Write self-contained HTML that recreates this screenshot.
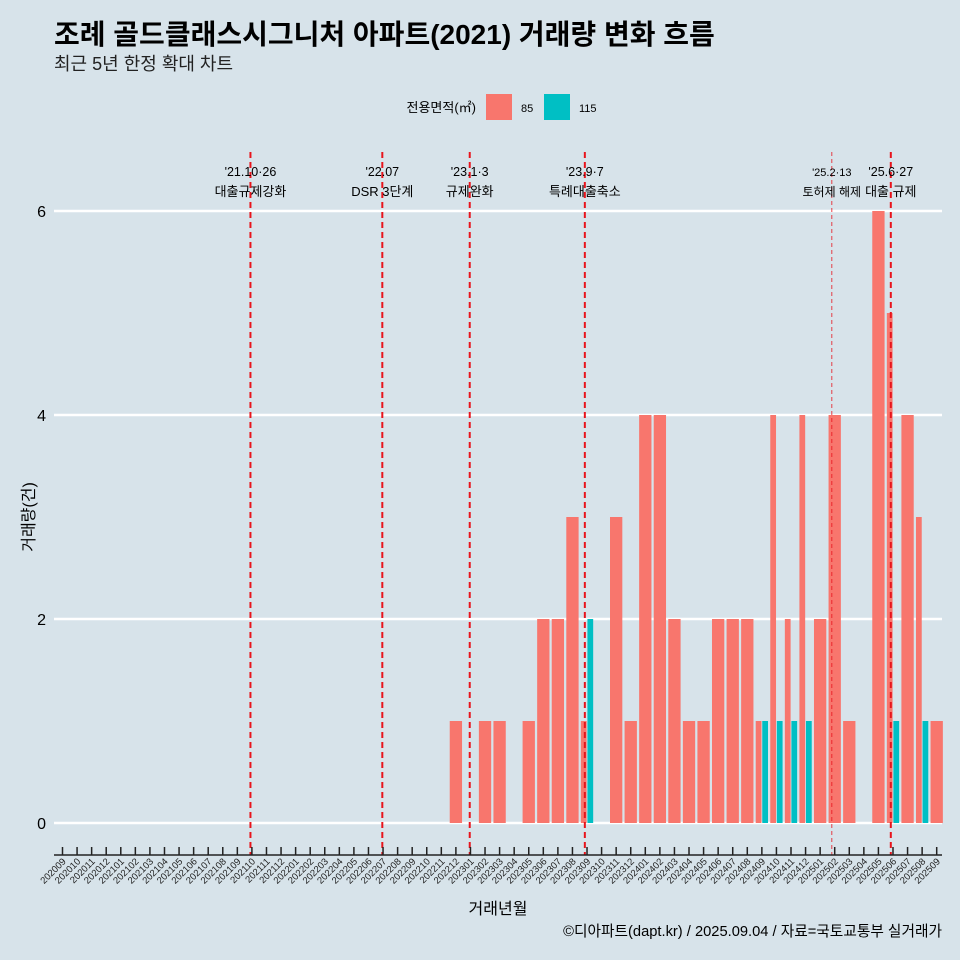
<!DOCTYPE html>
<html><head><meta charset="utf-8"><style>
body{margin:0;background:#d7e3ea;}
svg{display:block;font-family:"Liberation Sans","Noto Sans CJK KR",sans-serif;}
</style></head><body>
<svg id="chart" width="960" height="960" xmlns="http://www.w3.org/2000/svg">
<rect width="960" height="960" fill="#d7e3ea"/>
<text x="54" y="44" font-size="28" font-weight="bold" fill="#000">조례 골드클래스시그니처 아파트(2021) 거래량 변화 흐름</text>
<text x="54" y="70" font-size="18" fill="#222">최근 5년 한정 확대 차트</text>
<g>
<text x="476" y="112" font-size="13" text-anchor="end">전용면적(㎡)</text>
<rect x="486" y="94" width="26" height="26" fill="#f8766d"/>
<text x="521" y="112" font-size="11">85</text>
<rect x="544" y="94" width="26" height="26" fill="#00bfc4"/>
<text x="579" y="112" font-size="11">115</text>
</g>
<g id="grid"></g><g id="bars"></g><g id="events"></g><g id="axes"></g>
<text transform="translate(34,517) rotate(-90)" font-size="16" text-anchor="middle">거래량(건)</text>
<text x="498" y="914" font-size="16" text-anchor="middle">거래년월</text>
<text x="942" y="936" font-size="14.7" text-anchor="end">©디아파트(dapt.kr) / 2025.09.04 / 자료=국토교통부 실거래가</text>
</svg>
<script>
const months=[];
for(let y=2020,m=9;!(y===2025&&m===10);){months.push(''+y+(m<10?'0':'')+m);m++;if(m>12){m=1;y++;}}
const sizes=['85','115'];
const vals85={'202212':1,'202302':1,'202303':1,'202305':1,'202306':2,'202307':2,'202308':3,'202309':1,'202311':3,'202312':1,'202401':4,'202402':4,'202403':2,'202404':1,'202405':1,'202406':2,'202407':2,'202408':2,'202409':1,'202410':4,'202411':2,'202412':4,'202501':2,'202502':4,'202503':1,'202505':6,'202506':5,'202507':4,'202508':3,'202509':1};
const vals115={'202309':2,'202409':1,'202410':1,'202411':1,'202412':1,'202506':1,'202508':1};
const yTicks=[0,2,4,6];
const evPos=[12.9,21.95,27.95,35.85,52.8,56.85];
const evDate=["'21.10·26","'22.07","'23.1·3","'23.9·7","'25.2·13","'25.6·27"];
const evText=["대출규제강화","DSR 3단계","규제완화","특례대출축소","토허제 해제","대출 규제"];
const NS='http://www.w3.org/2000/svg';
const x0=62.5,step=14.57,y0=823,py=102;
const X=i=>x0+i*step, Y=v=>y0-v*py;
function mk(t,a,p){const e=document.createElementNS(NS,t);for(const k in a)e.setAttribute(k,a[k]);p.appendChild(e);return e;}
const grid=document.getElementById('grid'),bars=document.getElementById('bars'),ev=document.getElementById('events'),ax=document.getElementById('axes');
yTicks.forEach(t=>{
const l=mk('line',{x1:54,x2:942,y1:Y(t),y2:Y(t),stroke:'#fff','stroke-width':2.5},grid);


const tx=mk('text',{x:46,y:Y(t)+6,'font-size':16,'text-anchor':'end'},ax);tx.textContent=t;


});
const bw=step*0.9;
months.forEach((m,i)=>{
const a=vals85[m]||0,b=vals115[m]||0;
const both=a>0&&b>0;
[[a,'#f8766d','85'],[b,'#00bfc4','115']].forEach((d,k)=>{
if(!d[0])return;
let x=X(i)-bw/2,w=bw;
if(both){w=bw/2;x=X(i)-bw/2+k*w;}
const r=mk('rect',{x:x+0.4,y:Y(d[0]),width:w-0.8,height:d[0]*py,fill:d[1]},bars);


});
const tk=mk('line',{x1:X(i),x2:X(i),y1:847,y2:855,stroke:'#222','stroke-width':1.5},ax);


const lb=mk('text',{transform:'translate('+(X(i)+4)+',862) rotate(-45)','font-size':9.5,'text-anchor':'end',fill:'#222'},ax);lb.textContent=m;


});
const al=mk('line',{x1:54,x2:942,y1:855,y2:855,stroke:'#222','stroke-width':1.5},ax);


evPos.forEach((p,i)=>{
const x=X(p),thin=i===4;
const l=mk('line',{x1:x,x2:x,y1:152,y2:855,stroke:'#e8141c','stroke-width':thin?1:2,'stroke-dasharray':thin?'4 3':'6 4',opacity:thin?0.8:1},ev);


const t1=mk('text',{x:x,y:176,'font-size':thin?11:12.5,'text-anchor':'middle'},ev);t1.textContent=evDate[i];


const t2=mk('text',{x:x,y:196,'font-size':thin?12:13,'text-anchor':'middle'},ev);t2.textContent=evText[i];


});
</script>
</body></html>
